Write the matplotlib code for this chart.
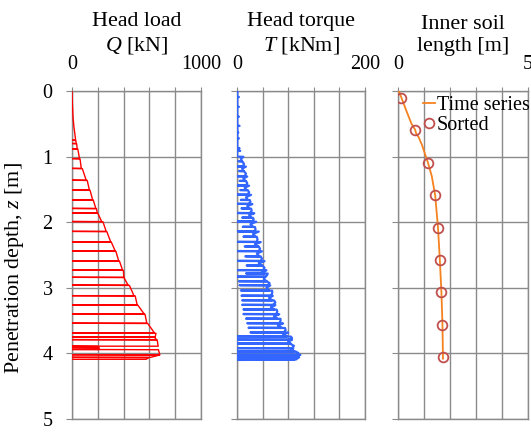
import numpy as np
import matplotlib.pyplot as plt

plt.rcParams['font.family'] = ['Liberation Serif', 'DejaVu Serif']
plt.rcParams['mathtext.fontset'] = 'custom'
plt.rcParams['mathtext.rm'] = 'Liberation Serif'
plt.rcParams['mathtext.it'] = 'Liberation Serif:italic'
plt.rcParams['font.size'] = 14.5

# head load: smooth start, then jacking strokes
q_top_depth = [0.00, 0.20, 0.40, 0.55, 0.65, 0.75]
q_top_load = [0, 3, 8, 15, 22, 28]
q_depth = [0.75, 0.80, 0.88, 1.03, 1.18, 1.36, 1.51, 1.66, 1.79, 1.86, 1.99, 2.14,
           2.30, 2.44, 2.59, 2.73, 2.84, 2.96, 3.12, 3.26, 3.40, 3.54, 3.69, 3.75,
           3.79, 3.89, 3.90, 3.91, 3.94, 4.02, 4.06]
q_peak = [28, 36, 45, 62, 80, 118, 140, 165, 190, 200, 240, 270, 305, 340, 368, 398,
          402, 445, 490, 510, 566, 587, 651, 640, 660, 200, 205, 210, 670, 680, 597]
q_end = [34, 40, 58, 72, 110, 135, 160, 185, 196, 230, 265, 300, 335, 362, 392, 402,
         435, 480, 505, 560, 580, 640, 645, 655, 668, 200, 205, 210, 680, 610, 574]
q_final_depth = 4.09

# head torque
t_top_depth = [0.00, 0.09, 0.24, 0.39, 0.53, 0.63, 0.72, 0.87, 0.91]
t_top_spike = [1, 3, 3, 3, 4, 2, 3, 4, 5]
t_depth = [1.00, 1.07, 1.15, 1.22, 1.30, 1.37, 1.44, 1.51, 1.58, 1.66, 1.72, 1.79,
           1.86, 1.93, 1.99, 2.07, 2.14, 2.22, 2.30, 2.37, 2.44, 2.52, 2.59, 2.66,
           2.73, 2.78, 2.83, 2.90, 2.96, 3.04, 3.12, 3.19, 3.26, 3.33, 3.40, 3.47,
           3.54, 3.61, 3.68, 3.74, 3.79, 3.85, 3.92, 3.97, 4.02, 4.06, 4.09]
t_low = [0, 2, 0, 3, 0, 4, 0, 5, 0, 6, 0, 7,
         0, 8, 0, 9, 1, 10, 1, 12, 1, 13, 1, 15,
         0, 14, 0, 3, 4, 6, 7, 8, 8, 10, 10, 14,
         16, 18, 21, 0, 0, 0, 0, 0, 0, 0, 0]
t_peak = [10, 8, 14, 11, 16, 14, 19, 17, 22, 20, 24, 22,
          27, 25, 30, 28, 34, 31, 37, 34, 39, 37, 43, 40,
          46, 48, 44, 47, 52, 55, 56, 58, 60, 62, 66, 68,
          72, 75, 80, 84, 86, 83, 88, 92, 99, 96, 90]
t_mid = [6, 11, 8, 14, 10, 16, 12, 19, 14, 21, 16, 23,
         19, 26, 21, 29, 25, 32, 28, 36, 31, 39, 34, 43,
         40, 47, 42, 51, 46, 55, 50, 60, 53, 63, 58, 68,
         64, 76, 72, 86, 80, 89, 85, 96, 92, 94, 90]
t_band = [8, 9, 10, 12, 13, 14, 15, 16, 17, 18, 19, 20,
          22, 23, 25, 27, 29, 31, 33, 34, 35, 37, 39, 41,
          43, 45, 46, 48, 50, 53, 55, 56, 58, 61, 63, 66,
          70, 73, 78, 82, 84, 86, 90, 95, 97, 93, 0]

# inner soil length
soil_ts_depth = [0.00, 0.10, 0.30, 0.50, 0.59, 0.65, 0.70, 0.82, 1.09, 1.30, 1.59,
                 2.09, 2.58, 3.07, 3.56, 4.08]
soil_ts_len = [0.03, 0.13, 0.32, 0.52, 0.66, 0.70, 0.79, 0.92, 1.15, 1.30, 1.43,
               1.54, 1.61, 1.67, 1.71, 1.73]
soil_sorted_depth = [0.10, 0.59, 1.09, 1.59, 2.09, 2.58, 3.07, 3.56, 4.05]
soil_sorted_len = [0.13, 0.66, 1.15, 1.43, 1.54, 1.61, 1.67, 1.71, 1.73]

# build load path
qz = list(q_top_depth)
qv = list(q_top_load)
for i in range(len(q_depth)):
    z0 = q_depth[i]
    z1 = q_depth[i + 1] if i + 1 < len(q_depth) else q_final_depth
    qz += [z0, z0 + 0.004, z1, z1]
    qv += [0, q_peak[i], q_end[i], 0]

# build torque path
tz, tv = [], []
for z, s in zip(t_top_depth, t_top_spike):
    tz += [z, z + 0.002, z + 0.004]
    tv += [0.5, s, 0.5]
for i in range(len(t_depth)):
    z0 = t_depth[i]
    z1 = t_depth[i + 1] if i + 1 < len(t_depth) else z0 + 0.01
    tz += [z0, z0 + 0.003, (z0 + z1) / 2, z1]
    tv += [t_low[i], t_peak[i], t_mid[i], t_band[i]]

grid_c = '#8a8a8a'
fig = plt.figure(figsize=(5.31, 4.32), dpi=100)
b = 1 - 419 / 432
h = (419 - 91) / 432
ax1 = fig.add_axes([72 / 531, b, 129 / 531, h])
ax2 = fig.add_axes([237 / 531, b, 128 / 531, h])
ax3 = fig.add_axes([398 / 531, b, 130 / 531, h])

ax1.plot(qv, qz, color='#ff0000', lw=1.0, zorder=3)
ax2.plot(tv, tz, color='#3366ff', lw=1.6, zorder=3)
ax3.plot(soil_ts_len, soil_ts_depth, color='#f5821f', lw=1.3, zorder=3, label='Time series')
ax3.plot(soil_sorted_len, soil_sorted_depth, 'o', ms=7, mfc='none', mec='#c0504d',
         mew=1.3, zorder=4, label='Sorted')

specs = [(ax1, 1000, 200, 'Head load\n$Q$ [kN]'),
         (ax2, 200, 40, 'Head torque\n$T$ [kNm]'),
         (ax3, 5, 1, 'Inner soil\nlength [m]')]
for ax, xmax, step, title in specs:
    ax.set_xlim(0, xmax)
    ax.set_ylim(5, 0)
    ticks = np.arange(0, xmax + step / 2, step)
    ax.set_xticks(ticks)
    ax.set_xticklabels(['0'] + [''] * (len(ticks) - 2) + [str(xmax)])
    ax.set_yticks(range(6))
    ax.xaxis.tick_top()
    ax.tick_params(axis='x', length=3, pad=9, color=grid_c)
    ax.tick_params(axis='y', length=4, pad=10, color=grid_c)
    ax.grid(True, color=grid_c, lw=1.0)
    ax.set_axisbelow(True)
    for sp in ax.spines.values():
        sp.set_color(grid_c)
        sp.set_linewidth(1.0)
    ax.text(0.5, 1.108, title, transform=ax.transAxes, ha='center', va='bottom',
            fontsize=15.8, linespacing=1.2)

ax2.tick_params(axis='y', labelleft=False)
ax3.tick_params(axis='y', labelleft=False)
ax1.set_ylabel('Penetration depth, $z$ [m]', fontsize=15.8)
ax1.yaxis.set_label_coords(-0.36, 0.46)

ax3.legend(loc='upper left', bbox_to_anchor=(0.19, 0.985), frameon=False,
           handlelength=0.6, handletextpad=0.1, borderpad=0, borderaxespad=0,
           labelspacing=0.05)

fig.savefig('out.png', dpi=100)
